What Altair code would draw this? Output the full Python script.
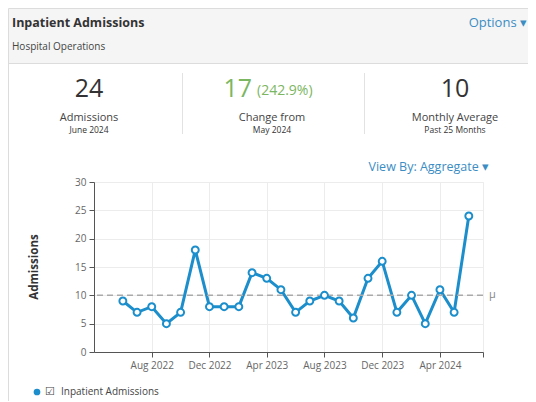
import altair as alt
import pandas as pd

# ---------------- data ----------------
months = [
    "2022-06-01", "2022-07-01", "2022-08-01", "2022-09-01", "2022-10-01",
    "2022-11-01", "2022-12-01", "2023-01-01", "2023-02-01", "2023-03-01",
    "2023-04-01", "2023-05-01", "2023-06-01", "2023-07-01", "2023-08-01",
    "2023-09-01", "2023-10-01", "2023-11-01", "2023-12-01", "2024-01-01",
    "2024-02-01", "2024-03-01", "2024-04-01", "2024-05-01", "2024-06-01",
]
admissions = [9, 7, 8, 5, 7, 18, 8, 8, 8, 14, 13, 11, 7, 9, 10, 9, 6, 13, 16, 7,
              10, 5, 11, 7, 24]
y_ticks = [0, 5, 10, 15, 20, 25, 30]
x_tick_months = [(2022, 8), (2022, 12), (2023, 4), (2023, 8), (2023, 12), (2024, 4), (2024, 7)]

df = pd.DataFrame({"month": months, "admissions": admissions})

latest = admissions[-1]
prev = admissions[-2]
change = latest - prev
pct = change / prev * 100
avg = round(sum(admissions) / len(admissions))

# ---------------- layout ----------------
FONT = "Open Sans"
BLUE = "#1b8ecb"
LINKBLUE = "#3b8dc4"
GREEN = "#7bb661"
W, H = 389, 170
OX, OY = 94, 182  # page position of plot origin
BOTTOM = 401
RIGHT = 528

one = alt.Data(values=[{"a": 1}])


def txt(text, x, y, size, color="#333", weight="normal", align="center", angle=0):
    return alt.Chart(one).mark_text(
        text=text, fontSize=size, font=FONT, color=color, fontWeight=weight,
        align=align, baseline="middle", angle=angle,
    ).encode(x=alt.value(x - OX), y=alt.value(y - OY))


header = alt.Chart(one).mark_rect(fill="#f5f5f5", stroke="#dcdcdc", strokeWidth=1).encode(
    x=alt.value(8.5 - OX), x2=alt.value(540 - OX), y=alt.value(8.5 - OY), y2=alt.value(63.5 - OY)
)
left_border = alt.Chart(one).mark_rule(color="#dcdcdc").encode(
    x=alt.value(8.5 - OX), y=alt.value(63 - OY), y2=alt.value(410 - OY)
)
seps = [
    alt.Chart(one).mark_rule(color="#e2e2e2").encode(
        x=alt.value(sx - OX), y=alt.value(73 - OY), y2=alt.value(134 - OY)
    )
    for sx in (182.5, 364.5)
]

texts = [
    txt("Inpatient Admissions", 12, 23, 12.5, "#333", "bold", "left"),
    txt("Options \u25BE", 527, 23, 13, LINKBLUE, "normal", "right"),
    txt("Hospital Operations", 12, 47, 10, "#444", "normal", "left"),
    txt(str(latest), 89, 89, 25, "#333"),
    txt("Admissions", 89, 118, 11, "#444"),
    txt("June 2024", 89, 130, 8.5, "#333"),
    txt(str(change), 252, 89, 25, GREEN, "normal", "right"),
    txt(f"({pct:.1f}%)", 257, 91, 14, GREEN, "normal", "left"),
    txt("Change from", 272, 118, 11, "#444"),
    txt("May 2024", 272, 130, 8.5, "#333"),
    txt(str(avg), 455, 89, 25, "#333"),
    txt("Monthly Average", 455, 118, 11, "#444"),
    txt(f"Past {len(admissions)} Months", 455, 130, 8.5, "#333"),
    txt("View By: Aggregate  \u25BE", 489, 167, 12.5, LINKBLUE, "normal", "right"),
    txt("Admissions", 35, 267, 11.5, "#333", "bold", "center", 270),
    txt("\u2611", 50, 392, 11, "#444"),
    txt("Inpatient Admissions", 61, 392, 10, "#444", "normal", "left"),
]
legend_dot = alt.Chart(one).mark_point(filled=True, color=BLUE, size=45, opacity=1).encode(
    x=alt.value(37 - OX), y=alt.value(392 - OY)
)

x_vals = [alt.DateTime(year=y, month=m, date=1, utc=True) for y, m in x_tick_months]
x_axis = alt.Axis(
    values=x_vals, title=None,
    labelExpr="utcmonth(datum.value) == 6 ? '' : utcFormat(datum.value, '%b %Y')",
    labelFont=FONT, labelFontSize=10, labelColor="#666", labelPadding=3,
    tickSize=5, tickColor="#555", domainColor="#555",
    gridColor="#ececec", grid=True,
)
y_axis = alt.Axis(
    values=y_ticks, title=None,
    labelFont=FONT, labelFontSize=10, labelColor="#666", labelPadding=3,
    tickSize=5, tickColor="#555", domainColor="#555",
    gridColor="#ececec", grid=True,
)
x_scale = alt.Scale(
    type="utc",
    domain=[alt.DateTime(year=2022, month=4, date=1, utc=True),
            alt.DateTime(year=2024, month=7, date=1, utc=True)],
)
y_scale = alt.Scale(domain=[0, 30], nice=False)
x_enc = alt.X("month:T", scale=x_scale, axis=x_axis)
y_enc = alt.Y("admissions:Q", scale=y_scale, axis=y_axis)
y_mean = alt.Y("mean(admissions):Q", scale=y_scale, axis=y_axis)

base = alt.Chart(df)
line = base.mark_line(color=BLUE, strokeWidth=3).encode(x=x_enc, y=y_enc)
mean_rule = base.mark_rule(color="#aaaaaa", strokeDash=[6, 4], strokeWidth=1.5).encode(y=y_mean)
mu = base.mark_text(text="\u03bc", align="left", baseline="middle", dx=6, fontSize=11,
                    font=FONT, color="#888").encode(y=y_mean, x=alt.value(W))
pts = base.mark_point(filled=True, fill="white", stroke=BLUE, strokeWidth=2, size=48,
                      opacity=1).encode(x=x_enc, y=y_enc)

chart = alt.layer(
    line, mean_rule, mu, pts, header, left_border, *seps, *texts, legend_dot
).properties(
    width=W, height=H,
    padding={"left": OX - 8, "top": OY - 8, "right": RIGHT - OX - W, "bottom": BOTTOM - OY - H},
    autosize=alt.AutoSizeParams(type="none"),
).configure_view(stroke="#ececec")

chart.save("out.html", embed_options={"renderer": "svg", "actions": False})
